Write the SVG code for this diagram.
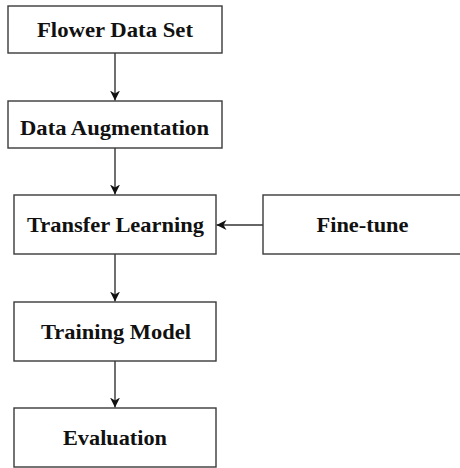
<svg xmlns="http://www.w3.org/2000/svg" width="460" height="468" viewBox="0 0 460 468">
<style>
.box{fill:#fff;stroke:#3a3a3a;stroke-width:1.4}
.lbl{font-family:"Liberation Serif","Times New Roman",serif;font-weight:bold;font-size:22px;fill:#111;text-anchor:middle}
.con{stroke:#333;stroke-width:1.4;fill:none;marker-end:url(#ah)}
</style>
<defs>
<marker id="ah" viewBox="0 0 10 10" refX="10" refY="5" markerWidth="10" markerHeight="10" markerUnits="userSpaceOnUse" orient="auto">
<path d="M0,0 L10,5 L0,10 L3,5 Z" fill="#111"/>
</marker>
</defs>
<rect width="460" height="468" fill="#fff"/>
<g id="connectors">
<line class="con" x1="115" y1="53" x2="115" y2="100.5"/>
<line class="con" x1="115" y1="148" x2="115" y2="194.5"/>
<line class="con" x1="263" y1="225" x2="216.5" y2="225"/>
<line class="con" x1="115" y1="254" x2="115" y2="301.5"/>
<line class="con" x1="115" y1="361" x2="115" y2="407.5"/>
</g>
<g id="flower">
<rect class="box" x="8" y="6" width="214" height="47"/>
<text class="lbl" x="115" y="37" textLength="156" lengthAdjust="spacingAndGlyphs">Flower Data Set</text>
</g>
<g id="augment">
<rect class="box" x="8" y="101" width="214" height="47"/>
<text class="lbl" x="114.5" y="135" textLength="189" lengthAdjust="spacingAndGlyphs">Data Augmentation</text>
</g>
<g id="transfer">
<rect class="box" x="14" y="195" width="202" height="59"/>
<text class="lbl" x="115.5" y="232" textLength="177" lengthAdjust="spacingAndGlyphs">Transfer Learning</text>
</g>
<g id="finetune">
<rect class="box" x="263" y="195" width="210" height="59"/>
<text class="lbl" x="362.5" y="232" textLength="92" lengthAdjust="spacingAndGlyphs">Fine-tune</text>
</g>
<g id="training">
<rect class="box" x="14" y="302" width="202" height="59"/>
<text class="lbl" x="116" y="339" textLength="150" lengthAdjust="spacingAndGlyphs">Training Model</text>
</g>
<g id="evaluation">
<rect class="box" x="14" y="408" width="202" height="59"/>
<text class="lbl" x="115" y="445" textLength="104" lengthAdjust="spacingAndGlyphs">Evaluation</text>
</g>
</svg>
